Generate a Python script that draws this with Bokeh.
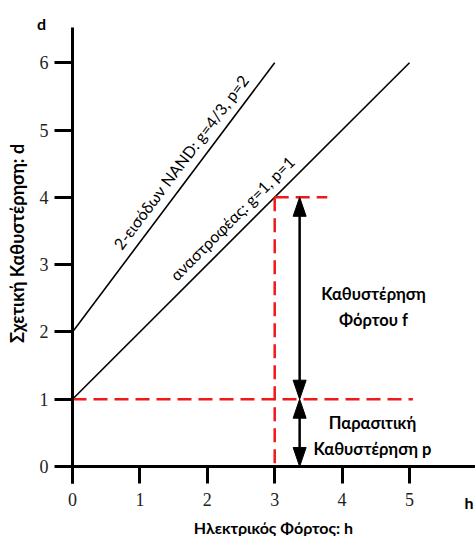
import math
from bokeh.plotting import figure
from bokeh.models import FixedTicker
from bokeh.core.properties import value
from bokeh.embed import file_html
from bokeh.resources import INLINE

# ---------------- data ----------------
gate_names = ["2-εισόδων NAND: g=4/3, p=2", "αναστροφέας: g=1, p=1"]
gate_g = [4 / 3, 1.0]
gate_p = [2.0, 1.0]
gate_hmax = [3.0, 5.0]
label_h = [1.79, 2.53]          # where along each line its label sits
example_h = 3.0                 # electrical effort used in the inverter example
parasitic_end_h = 5.05
effort_end_h = 3.78
arrow_h = 3.37
x_ticks = [0, 1, 2, 3, 4, 5]
y_ticks = [0, 1, 2, 3, 4, 5, 6]
x_title = "Ηλεκτρικός Φόρτος: h"
y_title = "Σχετική Καθυστέρηση: d"
effort_text = "Καθυστέρηση\nΦόρτου f"
parasitic_text = "Παρασιτική\nΚαθυστέρηση p"

# ---------------- layout (pixels) ----------------
W, H = 475, 536
X0, Y0 = 72, 466      # canvas position of the origin
SX, SY = 67.4, 67.3   # pixels per unit

def hx(px):  # canvas x -> data h
    return (px - X0) / SX

def dy(py):  # canvas y -> data d
    return (Y0 - py) / SY

p = figure(width=W, height=H, output_backend="svg", toolbar_location=None,
           x_range=(hx(0), hx(W)), y_range=(dy(H), dy(0)),
           min_border=0, tools="")
p.outline_line_color = None
p.grid.visible = False
p.background_fill_color = "white"
p.border_fill_color = "white"

for ax, ticks, bounds, tick_len in ((p.xaxis, x_ticks, (hx(58.5), hx(W)), 17),
                                    (p.yaxis, y_ticks, (dy(483), dy(27)), 18)):
    ax.fixed_location = 0
    ax.ticker = FixedTicker(ticks=ticks)
    ax.bounds = bounds
    ax.axis_line_width = 3
    ax.axis_line_color = "black"
    ax.major_tick_line_width = 3
    ax.major_tick_line_color = "black"
    ax.major_tick_out = tick_len
    ax.major_tick_in = 0
    ax.minor_tick_line_color = None
    ax.major_label_text_font = "Liberation Serif"
    ax.major_label_text_font_size = "18px"
    ax.major_label_text_color = "#222222"
p.xaxis.major_label_standoff = 9
p.yaxis.major_label_standoff = 6

# gate lines d = g*h + p
for g, pp, hm in zip(gate_g, gate_p, gate_hmax):
    p.line([0, hm], [pp, g * hm + pp], line_color="black", line_width=1.6)

# gate labels along the lines
lx, ly, la, xo, yo = [], [], [], [], []
for g, pp, h in zip(gate_g, gate_p, label_h):
    a = math.atan2(g * SY, SX)
    lx.append(h)
    ly.append(g * h + pp)
    la.append(a)
    xo.append(-math.sin(a) * 15.5)
    yo.append(-math.cos(a) * 15.5)
p.text(x=lx, y=ly, text=gate_names, angle=la, x_offset=xo, y_offset=yo,
       text_align="center", text_baseline="middle",
       text_font=value("Lato"), text_font_size="16px", text_color="black")

# red dashed guide lines for the inverter example
inv_g, inv_p = gate_g[1], gate_p[1]
d_ex = inv_g * example_h + inv_p
red = "#f01818"
p.line([0, parasitic_end_h], [inv_p, inv_p], line_color=red, line_width=2.5, line_dash="14 7")
p.line([example_h, example_h], [d_ex, 0], line_color=red, line_width=2.5, line_dash="14 7")
p.line([example_h, effort_end_h], [d_ex, d_ex], line_color=red, line_width=2.5, line_dash="14 7")

# double arrows: shafts + narrow filled heads
head_len, head_half = 19 / SY, 6.5 / SX
spans = [(inv_p, d_ex), (0, inv_p)]
for lo, hi in spans:
    p.line([arrow_h, arrow_h], [lo + head_len * 0.5, hi - head_len * 0.5],
           line_color="black", line_width=2.5)
hxs, hys = [], []
for lo, hi in spans:
    hxs.append([arrow_h, arrow_h - head_half, arrow_h + head_half])
    hys.append([hi, hi - head_len, hi - head_len])
    hxs.append([arrow_h, arrow_h - head_half, arrow_h + head_half])
    hys.append([lo, lo + head_len, lo + head_len])
p.patches(hxs, hys, fill_color="black", line_color="black", line_width=1)

# annotation texts
p.text(x=[hx(373), hx(372)], y=[dy(306), dy(435)], text=[effort_text, parasitic_text],
       text_align="center", text_baseline="middle", text_line_height=1.3,
       text_font=value("Lato"), text_font_style="bold", text_font_size="16.5px",
       text_color="black")

# axis titles
p.text(x=[hx(273)], y=[dy(527)], text=[x_title], text_align="center", text_baseline="middle",
       text_font=value("Lato"), text_font_style="bold", text_font_size="16px", text_color="black")
p.text(x=[hx(16)], y=[dy(243)], text=[y_title], angle=math.pi / 2,
       text_align="center", text_baseline="middle",
       text_font=value("Lato"), text_font_style="bold", text_font_size="18px", text_color="black")
p.text(x=[hx(41)], y=[dy(23)], text=["d"], text_align="center", text_baseline="middle",
       text_font=value("Lato"), text_font_style="bold", text_font_size="16px", text_color="black")
p.text(x=[hx(464)], y=[dy(502)], text=["h"], text_align="left", text_baseline="middle",
       text_font=value("Lato"), text_font_style="bold", text_font_size="16px", text_color="black")

open("out.html", "w").write(file_html(p, INLINE))
